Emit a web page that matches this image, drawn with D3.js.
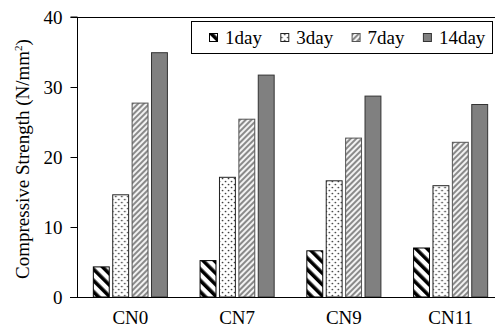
<!DOCTYPE html>
<html>
<head>
<meta charset="utf-8">
<script src="https://cdn.jsdelivr.net/npm/d3@7/dist/d3.min.js"></script>
<style>
  html, body { margin: 0; padding: 0; background: #fff; }
  svg { display: block; font-family: "Liberation Serif", "Times New Roman", serif; }
</style>
</head>
<body>
<div id="chart"></div>
<script>
// Chart data
const mixes = ['CN0', 'CN7', 'CN9', 'CN11'];
const ages = ['1day', '3day', '7day', '14day'];
const day1 = [4.3, 5.2, 6.6, 7.0];
const day3 = [14.6, 17.1, 16.6, 15.9];
const day7 = [27.7, 25.4, 22.7, 22.1];
const day14 = [34.9, 31.7, 28.7, 27.5];
const yTicks = [0, 10, 20, 30, 40];

const seriesValues = [day1, day3, day7, day14];

const width = 495;
const height = 334;
const margin = { top: 17, left: 77, bottom: 37 };
const plotBottom = height - margin.bottom;

const svg = d3.select('#chart')
  .append('svg')
  .attr('width', width)
  .attr('height', height);

const defs = svg.append('defs');

// 1day: heavy black diagonal stripes
const p1 = defs.append('pattern')
  .attr('id', 'pat1')
  .attr('patternUnits', 'userSpaceOnUse')
  .attr('width', 8)
  .attr('height', 8)
  .attr('patternTransform', 'rotate(-45)');
p1.append('rect').attr('width', 8).attr('height', 8).attr('fill', '#fff');
p1.append('rect').attr('width', 3.6).attr('height', 8).attr('fill', '#000');

// 3day: small staggered dots
const p2 = defs.append('pattern')
  .attr('id', 'pat2')
  .attr('patternUnits', 'userSpaceOnUse')
  .attr('width', 6)
  .attr('height', 6);
p2.append('rect').attr('width', 6).attr('height', 6).attr('fill', '#fff');
p2.append('circle').attr('cx', 1.5).attr('cy', 1.5).attr('r', 0.85).attr('fill', '#333');
p2.append('circle').attr('cx', 4.5).attr('cy', 4.5).attr('r', 0.85).attr('fill', '#333');

// 7day: thin grey diagonal hatching
const p3 = defs.append('pattern')
  .attr('id', 'pat3')
  .attr('patternUnits', 'userSpaceOnUse')
  .attr('width', 4)
  .attr('height', 4)
  .attr('patternTransform', 'rotate(45)');
p3.append('rect').attr('width', 4).attr('height', 4).attr('fill', '#f2f2f2');
p3.append('rect').attr('width', 2).attr('height', 4).attr('fill', '#8a8a8a');

const fills = ['url(#pat1)', 'url(#pat2)', 'url(#pat3)', '#808080'];
const strokes = ['#000', '#222', '#555', '#333'];

// Scales
const x0 = d3.scaleBand()
  .domain(mixes)
  .range([margin.left, 504])
  .paddingInner(0.306)
  .paddingOuter(0.153);

const x1 = d3.scaleBand()
  .domain(ages)
  .range([0, x0.bandwidth()])
  .paddingInner(0.18);

const y = d3.scaleLinear()
  .domain([0, 40])
  .range([plotBottom, margin.top]);

// Bars
const groups = svg.append('g')
  .selectAll('g')
  .data(mixes)
  .join('g')
  .attr('transform', d => `translate(${x0(d)},0)`);

groups.selectAll('rect')
  .data((d, i) => ages.map((a, j) => ({ age: a, idx: j, value: seriesValues[j][i] })))
  .join('rect')
  .attr('x', d => x1(d.age))
  .attr('y', d => y(d.value))
  .attr('width', x1.bandwidth())
  .attr('height', d => y(0) - y(d.value))
  .attr('fill', d => fills[d.idx])
  .attr('stroke', d => strokes[d.idx])
  .attr('stroke-width', 1);

// Frame top line
svg.append('line')
  .attr('x1', margin.left)
  .attr('x2', width)
  .attr('y1', y(40) + 0.5)
  .attr('y2', y(40) + 0.5)
  .attr('stroke', '#000')
  .attr('stroke-width', 1);

// Y axis
const yAxis = svg.append('g')
  .attr('transform', `translate(${margin.left + 0.5},0)`)
  .call(d3.axisLeft(y).tickValues(yTicks).tickSize(7).tickPadding(8));
yAxis.select('.domain').attr('stroke', '#000').attr('d', `M-7,${y(40)}H0V${y(0)}`);
yAxis.selectAll('.tick line').attr('stroke', '#000');
yAxis.selectAll('.tick text')
  .attr('font-size', 19)
  .attr('font-family', '"Liberation Serif", serif')
  .attr('fill', '#000');

// X axis
const xAxis = svg.append('g')
  .attr('transform', `translate(0,${plotBottom + 0.5})`)
  .call(d3.axisBottom(x0).tickSize(0).tickPadding(13));
xAxis.select('.domain').attr('stroke', '#000').attr('d', `M${margin.left - 7},0H${width}`);
xAxis.selectAll('.tick text')
  .attr('font-size', 19)
  .attr('font-family', '"Liberation Serif", serif')
  .attr('fill', '#000');

// Y axis title
const title = svg.append('text')
  .attr('transform', `translate(29,${(y(0) + y(40)) / 2 + 2}) rotate(-90)`)
  .attr('text-anchor', 'middle')
  .attr('font-size', 19)
  .attr('fill', '#000');
title.append('tspan').text('Compressive Strength (N/mm');
title.append('tspan').attr('font-size', 11).attr('dy', -7).text('2');
title.append('tspan').attr('dy', 7).text(')');

// Legend
const legend = svg.append('g');
legend.append('rect')
  .attr('x', 191.5)
  .attr('y', 21.5)
  .attr('width', 301)
  .attr('height', 32)
  .attr('fill', '#fff')
  .attr('stroke', '#000')
  .attr('stroke-width', 1);

const legendItems = legend.selectAll('g.item')
  .data(ages)
  .join('g')
  .attr('class', 'item')
  .attr('transform', (d, i) => `translate(${209 + i * 71.3},0)`);

legendItems.append('rect')
  .attr('x', 0.5)
  .attr('y', 33.5)
  .attr('width', 8)
  .attr('height', 8)
  .attr('fill', (d, i) => fills[i])
  .attr('stroke', (d, i) => strokes[i]);

legendItems.append('text')
  .attr('x', 16)
  .attr('y', 44)
  .attr('font-size', 19)
  .attr('fill', '#000')
  .text(d => d);
</script>
</body>
</html>
